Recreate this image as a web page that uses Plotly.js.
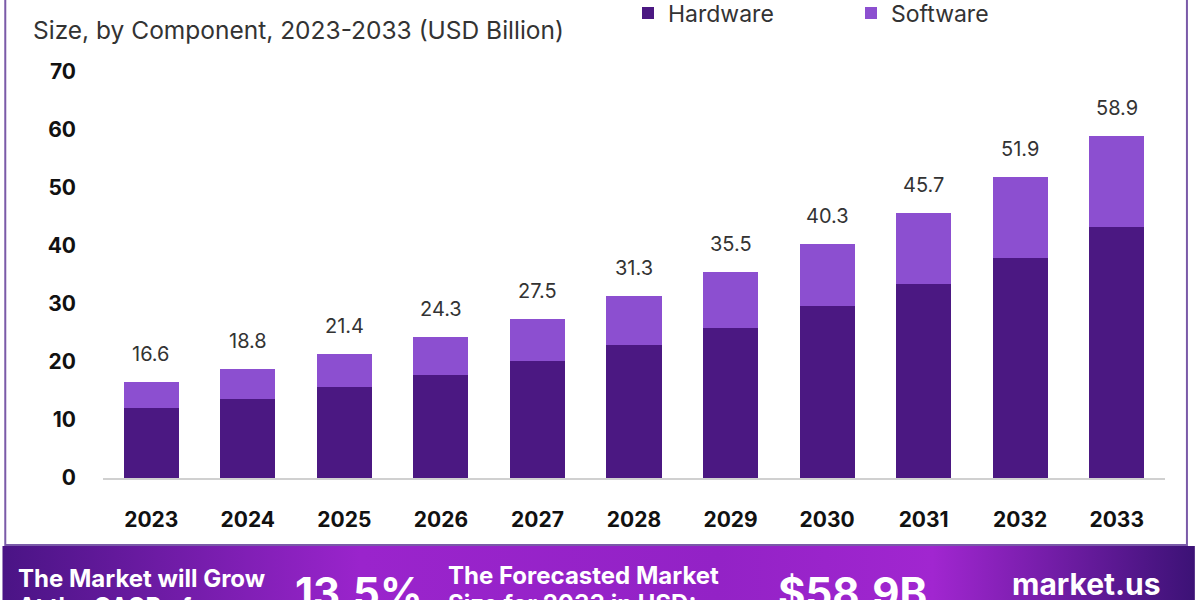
<!DOCTYPE html>
<html>
<head>
<meta charset="utf-8">
<script src="https://cdn.plot.ly/plotly-3.0.1.min.js"></script>
<style>html,body{margin:0;padding:0;background:#fff;}#chart{width:1200px;height:600px;}</style>
</head>
<body>
<div id="chart"></div>
<script>
const years = ['2023','2024','2025','2026','2027','2028','2029','2030','2031','2032','2033'];
const hardware = [12.1, 13.7, 15.7, 17.8, 20.1, 22.9, 25.9, 29.6, 33.5, 38.0, 43.2];
const software = [4.5, 5.1, 5.7, 6.5, 7.4, 8.4, 9.6, 10.7, 12.2, 13.9, 15.7];
const totals = [16.6, 18.8, 21.4, 24.3, 27.5, 31.3, 35.5, 40.3, 45.7, 51.9, 58.9];
const yTicks = [0, 10, 20, 30, 40, 50, 60, 70];

const FONT = 'Inter, "Open Sans", "Noto Sans", sans-serif';

const traces = [
  {type:'bar', name:'Hardware', x:years, y:hardware, marker:{color:'#4b1882'}, width:0.57, hoverinfo:'skip'},
  {type:'bar', name:'Software', x:years, y:software, marker:{color:'#8c4fd0'}, width:0.57, hoverinfo:'skip'}
];

// category axes: annotation x uses the category's serial index
const annotations = years.map((yr,i)=>({
  x: i, y: totals[i], xref:'x', yref:'y', text: totals[i].toFixed(1),
  showarrow:false, yanchor:'bottom', yshift:14,
  font:{family:FONT, size:20, color:'#333'}
}));

const bannerFont = {family:FONT, color:'#fff', weight:'bold'};
function bannerText(text, px, py, size){
  return {xref:'paper', yref:'paper', x:0, y:0, xanchor:'left', yanchor:'middle', text:text, showarrow:false,
          font:Object.assign({}, bannerFont, {size:size}), xshift:px-103, yshift:478-py};
}
annotations.push(
  bannerText('The Market will Grow', 16, 578, 24),
  bannerText('At the CAGR of:', 16, 606, 24),
  bannerText('13.5%', 293, 592, 42),
  bannerText('The Forecasted Market', 446, 575, 24),
  bannerText('Size for 2033 in USD:', 446, 603, 24),
  bannerText('$58.9B', 776, 592, 42),
  bannerText('market.us', 1010, 584, 30)
);

const gradSvg = '<svg xmlns="http://www.w3.org/2000/svg" width="1200" height="60" preserveAspectRatio="none">' +
  '<defs><linearGradient id="g" x1="0" y1="0" x2="1" y2="0">' +
  '<stop offset="0" stop-color="#4a1485"/><stop offset="0.3" stop-color="#9a24cc"/>' +
  '<stop offset="0.6" stop-color="#9322c6"/><stop offset="0.78" stop-color="#a126d0"/>' +
  '<stop offset="1" stop-color="#3c1276"/></linearGradient></defs>' +
  '<rect width="1200" height="60" fill="url(#g)"/></svg>';
const gradUri = 'data:image/svg+xml;base64,' + btoa(gradSvg);

const layout = {
  width:1200, height:600,
  margin:{l:103, r:35, t:72, b:122, autoexpand:false},
  paper_bgcolor:'#ffffff', plot_bgcolor:'#ffffff',
  barmode:'stack',
  title:{text:'Size, by Component, 2023-2033 (USD Billion)', x:33/1200, xanchor:'left', xref:'container',
         y:1-30/600, yanchor:'middle', yref:'container',
         font:{family:FONT, size:24.5, color:'#333'}},
  showlegend:true,
  legend:{orientation:'h', x:628/1200, xanchor:'left', y:1-13/600, yanchor:'middle', xref:'container', yref:'container',
          font:{family:FONT, size:23, color:'#333'}, entrywidth:178, itemwidth:30, traceorder:'normal',
          bgcolor:'rgba(0,0,0,0)'},
  xaxis:{type:'category', showgrid:false, zeroline:false, showline:true, linecolor:'#d0d0d0', linewidth:1.5,
         ticks:'', ticklabelstandoff:22,
         tickfont:{family:FONT, size:21, color:'#111', weight:'bold'}, range:[-0.5, 10.5]},
  yaxis:{range:[0,70], tickvals:yTicks, showgrid:false, zeroline:false, showline:false, ticks:'',
         ticklabelstandoff:26, tickfont:{family:FONT, size:21, color:'#111', weight:'bold'}},
  shapes:[
    {type:'rect', xref:'paper', yref:'paper', x0:-98/1065, x1:1190/1065-103/1065, y0:-67/406, y1:1.3,
     line:{color:'#7a5aa8', width:2}, fillcolor:'rgba(0,0,0,0)', layer:'below'}
  ],
  images:[
    {source:gradUri, xref:'paper', yref:'paper', x:-101/1065, y:-68/406, sizex:1196/1065, sizey:60/406,
     xanchor:'left', yanchor:'top', sizing:'stretch', layer:'below'}
  ],
  annotations:annotations
};

Plotly.newPlot('chart', traces, layout, {displayModeBar:false, staticPlot:true});
</script>
</body>
</html>
